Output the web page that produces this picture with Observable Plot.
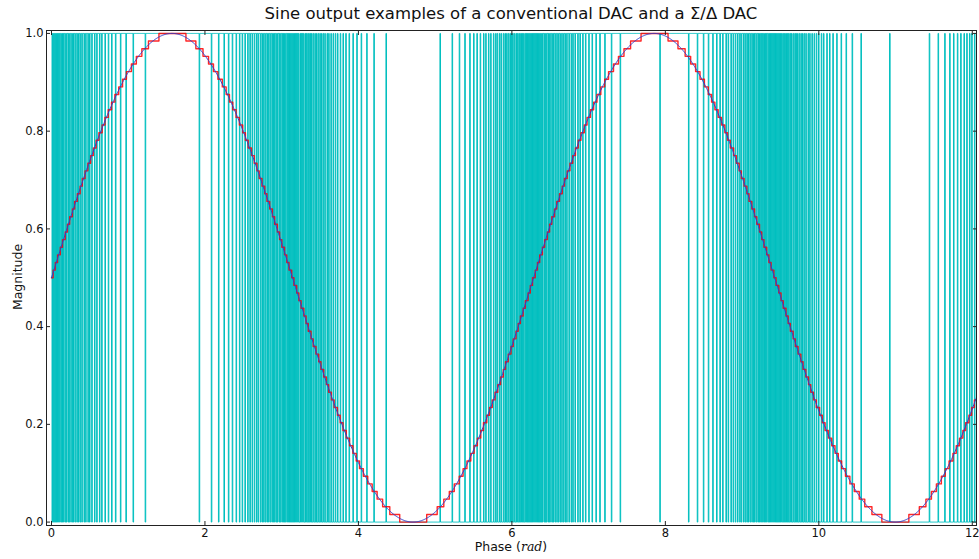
<!DOCTYPE html>
<html>
<head>
<meta charset="utf-8">
<script src="https://cdn.jsdelivr.net/npm/d3@7"></script>
<script src="https://cdn.jsdelivr.net/npm/@observablehq/plot@0.6"></script>
<style>
  html, body { margin: 0; padding: 0; background: #fff; }
  #wrap { position: relative; width: 979px; height: 559px; font-family: "DejaVu Sans", sans-serif; color: #111; }
  #title { position: absolute; left: 46px; width: 930px; top: 4px; text-align: center; font-size: 16.5px; }
  #xlabel { position: absolute; left: 46px; width: 930px; top: 539px; text-align: center; font-size: 12.5px; }
  #xlabel i { font-family: "DejaVu Serif", serif; font-style: italic; }
  #ylabel { position: absolute; left: 17px; top: 277px; font-size: 12.5px; transform: translate(-50%, -50%) rotate(-90deg); white-space: nowrap; }
  svg { position: absolute; left: 0; top: 0; }
</style>
</head>
<body>
<div id="wrap">
  <div id="chart"></div>
  <div id="title">Sine output examples of a conventional DAC and a Σ/Δ DAC</div>
  <div id="xlabel">Phase (<i>rad</i>)</div>
  <div id="ylabel">Magnitude</div>
</div>
<script>
// ---- data definitions ----
const phaseRange = [0, 4 * Math.PI];      // phase span of the signal (rad)
const sampleCount = [1750];               // samples of the Σ/Δ bitstream
const quantLevels = [64];                 // conventional DAC amplitude steps
const signalOffset = [0.5];
const signalAmplitude = [0.5];
const xTicks = [0, 2, 4, 6, 8, 10, 12];
const yTicks = [0.0, 0.2, 0.4, 0.6, 0.8, 1.0];
const xDomain = [-0.065, 12.055];
const yDomain = [-0.007, 1.006];

// ---- derived series ----
const n = sampleCount[0];
const dt = (phaseRange[1] - phaseRange[0]) / n;
const phase = d3.range(n).map(i => phaseRange[0] + i * dt);
const sine = phase.map(t => signalOffset[0] + signalAmplitude[0] * Math.sin(t));
const quant = sine.map(v => Math.round(v * quantLevels[0]) / quantLevels[0]);
let acc = 0;
const bits = sine.map(v => { const s = v + acc; const b = s >= 0.5 ? 1 : 0; acc = s - b; return b; });

const sineData = phase.map((x, i) => ({x, y: sine[i]}));
const quantData = phase.map((x, i) => ({x, y: quant[i]}));
const bitData = phase.map((x, i) => ({x, y: bits[i]}));

const chart = Plot.plot({
  width: 979,
  height: 559,
  marginLeft: 46,
  marginRight: 3,
  marginTop: 30,
  marginBottom: 34,
  style: {fontFamily: "DejaVu Sans, sans-serif", fontSize: "11.5px", color: "#111", background: "#fff"},
  x: {domain: xDomain},
  y: {domain: yDomain},
  marks: [
    Plot.line(bitData, {x: "x", y: "y", curve: "step-after", stroke: "#00bfbf", strokeWidth: 1, clip: true}),
    Plot.line(quantData, {x: "x", y: "y", curve: "step-after", stroke: "#ff0000", strokeWidth: 1.4, strokeOpacity: 0.85, clip: true}),
    Plot.line(sineData, {x: "x", y: "y", stroke: "#2a3fd0", strokeWidth: 1, clip: true}),
    Plot.frame({stroke: "#222", strokeWidth: 1}),
    Plot.axisX({anchor: "bottom", ticks: xTicks, tickSize: -4, tickPadding: 7, label: null, tickFormat: d3.format("d"), stroke: "#222"}),
    Plot.axisX({anchor: "top", ticks: xTicks, tickSize: -4, text: null, label: null, stroke: "#222"}),
    Plot.axisY({anchor: "left", ticks: yTicks, tickSize: -4, tickPadding: 7, label: null, tickFormat: d3.format(".1f"), stroke: "#222"}),
    Plot.axisY({anchor: "right", ticks: yTicks, tickSize: -4, text: null, label: null, stroke: "#222"})
  ]
});
document.getElementById("chart").appendChild(chart);
</script>
</body>
</html>
